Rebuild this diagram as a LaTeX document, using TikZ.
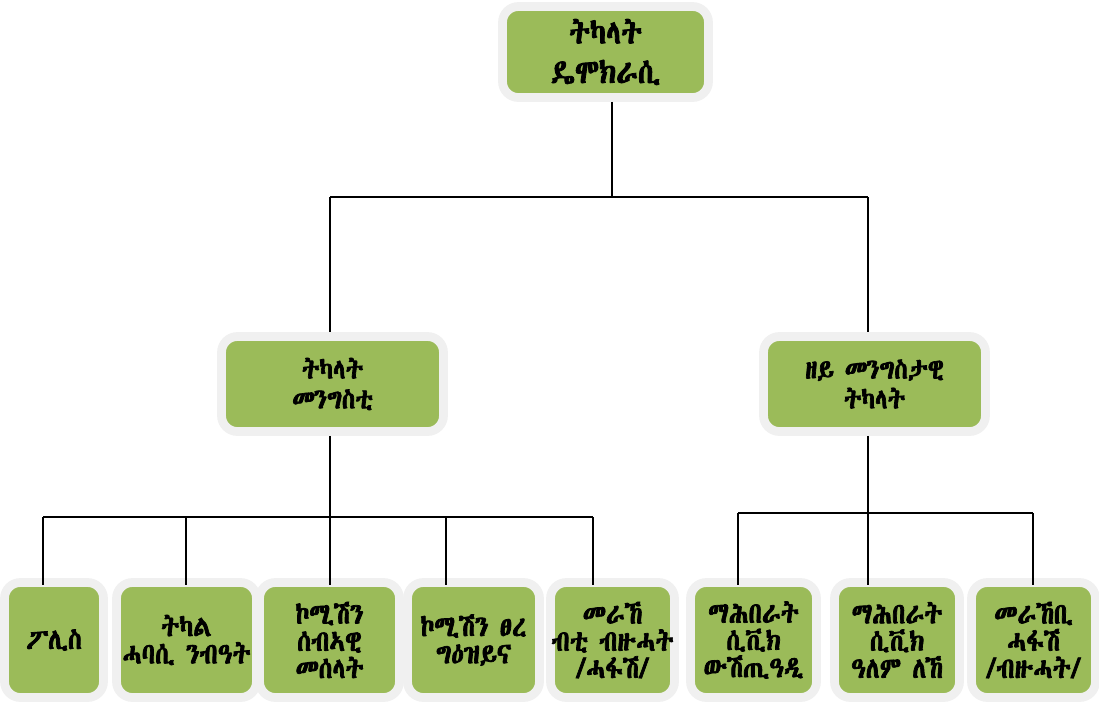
\documentclass[tikz,border=0pt]{standalone}
\usepackage{fontspec}

% look for a font that has Ethiopic letters
\suppressfontnotfounderror=1
\def\geezname{DejaVu Sans}
\font\trynoto="Noto Sans Ethiopic" at 10pt
\ifx\trynoto\nullfont\else\iffontchar\trynoto"1275 \def\geezname{Noto Sans Ethiopic}\fi\fi
\font\tryabys="Abyssinica SIL" at 10pt
\ifx\tryabys\nullfont\else\iffontchar\tryabys"1275 \def\geezname{Abyssinica SIL}\fi\fi
\font\tryfree="[FreeSerif.otf]" at 10pt
\ifx\tryfree\nullfont\else\iffontchar\tryfree"1275 \def\geezname{FreeSerif.otf}\fi\fi
\suppressfontnotfounderror=0
\expandafter\newfontfamily\expandafter\geez\expandafter{\geezname}[FakeBold=2.5,FakeStretch=0.86]

\definecolor{boxgreen}{HTML}{9BBB59}
\definecolor{framegray}{HTML}{F0F0F0}

\begin{document}
\begin{tikzpicture}[x=0.02cm,y=-0.02cm,
    box/.style={draw=framegray,line width=5pt,fill=boxgreen,rounded corners=9pt,
        align=center,inner sep=0pt,font=\geez\fontsize{16.5}{15.5}\selectfont},
    link/.style={line width=1.5pt},
    into/.style={link,shorten >=-4pt}]
    \useasboundingbox (0,0) rectangle (1099,701);

    \node[box,minimum width=4.12cm,minimum height=1.82cm,
        font=\geez\fontsize{19}{22.5}\selectfont] (top) at (605.5,52) {ትካላት\\ዴሞክራሲ};
    \node[box,minimum width=4.44cm,minimum height=1.9cm,
        font=\geez\fontsize{16}{17}\selectfont] (gov) at (332.5,384) {ትካላት\\መንግስቲ};
    \node[box,minimum width=4.44cm,minimum height=1.9cm,
        font=\geez\fontsize{16}{17}\selectfont] (ngo) at (874.5,384) {ዘይ መንግስታዊ\\ትካላት};

    \node[box,minimum width=1.98cm,minimum height=2.3cm] (b1) at (54,640) {ፖሊስ};
    \node[box,minimum width=2.8cm,minimum height=2.3cm] (b2) at (186.5,640) {ትካል\\ሓባሲ ንብዓት};
    \node[box,minimum width=2.8cm,minimum height=2.3cm] (b3) at (329.5,640) {ኮሚሽን\\ሰብኣዊ\\መሰላት};
    \node[box,minimum width=2.64cm,minimum height=2.3cm] (b4) at (473.5,640) {ኮሚሽን ፀረ\\ግዕዝይና};
    \node[box,minimum width=2.48cm,minimum height=2.3cm] (b5) at (612.5,640) {መራኸ\\ብቲ ብዙሓት\\/ሓፋሽ/};
    \node[box,minimum width=2.52cm,minimum height=2.3cm] (b6) at (753.5,640) {ማሕበራት\\ሲቪክ\\ውሽጢዓዲ};
    \node[box,minimum width=2.5cm,minimum height=2.3cm] (b7) at (897,640) {ማሕበራት\\ሲቪክ\\ዓለም ለኸ};
    \node[box,minimum width=2.48cm,minimum height=2.3cm] (b8) at (1033.5,640) {መራኸቢ\\ሓፋሽ\\/ብዙሓት/};

    % top level
    \coordinate (t0) at (612,197);
    \coordinate (t1) at (330,197);
    \coordinate (t2) at (868,197);
    \draw[link] (top.south -| t0) -- (t0);
    \draw[link] (t1) -- (t2);
    \draw[link] (t1) -- (t1 |- gov.north);
    \draw[link] (t2) -- (t2 |- ngo.north);

    % government side
    \coordinate (g1) at (43,517);
    \coordinate (g2) at (186,517);
    \coordinate (g3) at (330,517);
    \coordinate (g4) at (446,517);
    \coordinate (g5) at (593,517);
    \draw[link] (gov.south -| g3) -- (g3);
    \draw[link] (g1) -- (g5);
    \draw[into] (g1) -- (g1 |- b1.north);
    \draw[into] (g2) -- (g2 |- b2.north);
    \draw[into] (g3) -- (g3 |- b3.north);
    \draw[into] (g4) -- (g4 |- b4.north);
    \draw[into] (g5) -- (g5 |- b5.north);

    % non government side
    \coordinate (n1) at (738,513);
    \coordinate (n2) at (868,513);
    \coordinate (n3) at (1033,513);
    \draw[link] (ngo.south -| n2) -- (n2);
    \draw[link] (n1) -- (n3);
    \draw[into] (n1) -- (n1 |- b6.north);
    \draw[into] (n2) -- (n2 |- b7.north);
    \draw[into] (n3) -- (n3 |- b8.north);
\end{tikzpicture}
\end{document}
